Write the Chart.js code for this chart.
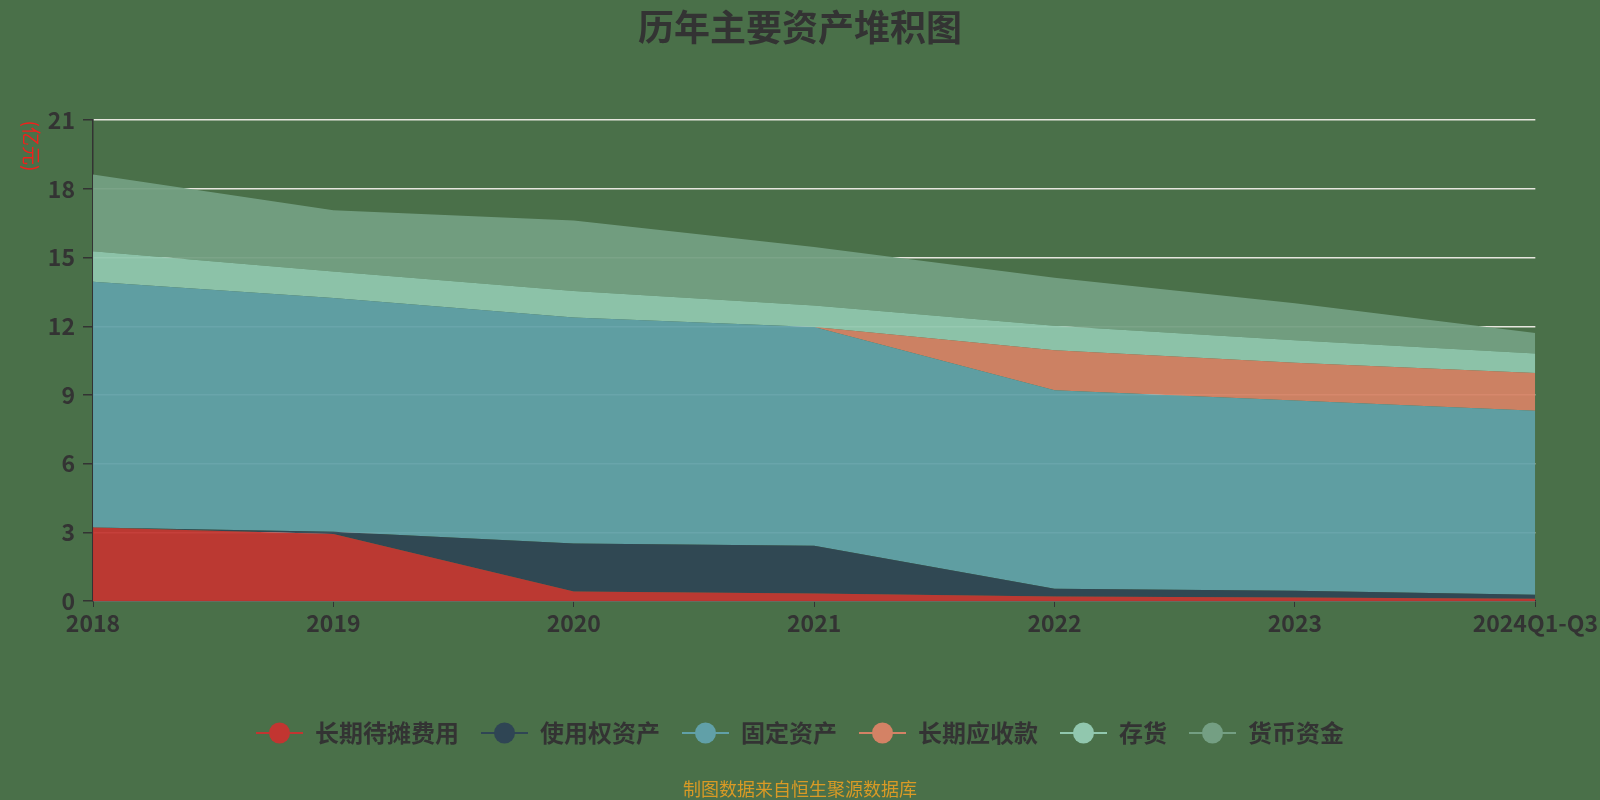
<!DOCTYPE html>
<html>
<head>
<meta charset="utf-8">
<script src="https://cdn.jsdelivr.net/npm/chart.js@4/dist/chart.umd.min.js"></script>
<style>
  html, body { margin: 0; padding: 0; background: #4a7049; }
  #wrap { width: 1600px; height: 800px; position: relative; }
</style>
</head>
<body>
<div id="wrap"><canvas id="chart"></canvas></div>
<script>
// data (亿元)
const years = ['2018', '2019', '2020', '2021', '2022', '2023', '2024Q1-Q3'];
const prepaidLongTerm = [3.21, 2.93, 0.41, 0.33, 0.20, 0.15, 0.10];   // 长期待摊费用
const rightOfUse = [0.00, 0.10, 2.10, 2.08, 0.34, 0.30, 0.17];        // 使用权资产
const fixedAssets = [10.73, 10.20, 9.87, 9.56, 8.66, 8.31, 8.04];      // 固定资产
const longTermRecv = [0.00, 0.00, 0.00, 0.00, 1.75, 1.65, 1.65];       // 长期应收款
const inventory = [1.34, 1.16, 1.16, 0.94, 1.07, 0.98, 0.85];          // 存货
const cash = [3.35, 2.68, 3.08, 2.55, 2.10, 1.61, 0.90];               // 货币资金
const yTicks = [0, 3, 6, 9, 12, 15, 18, 21];

const seriesNames = ['长期待摊费用', '使用权资产', '固定资产', '长期应收款', '存货', '货币资金'];
const seriesData = [prepaidLongTerm, rightOfUse, fixedAssets, longTermRecv, inventory, cash];
const colors = ['#c23531', '#2f4554', '#61a0a8', '#d48265', '#91c7ae', '#749f83'];

const FONT = '"Noto Sans CJK SC", "Noto Sans", sans-serif';
Chart.defaults.font.family = FONT;

function rgba(hex, a) {
  const n = parseInt(hex.slice(1), 16);
  return `rgba(${n >> 16},${(n >> 8) & 255},${n & 255},${a})`;
}

// legend icon: short line with a dot on it
function legendIcon(color) {
  const c = document.createElement('canvas');
  c.width = 47; c.height = 24;
  const g = c.getContext('2d');
  g.strokeStyle = color;
  g.lineWidth = 2;
  g.beginPath(); g.moveTo(0, 12); g.lineTo(47, 12); g.stroke();
  g.fillStyle = color;
  g.beginPath(); g.arc(23.5, 12, 10.5, 0, Math.PI * 2); g.fill();
  return c;
}
const icons = colors.map(legendIcon);

const datasets = seriesNames.map((name, i) => ({
  label: name,
  data: seriesData[i],
  backgroundColor: rgba(colors[i], 0.94),
  borderColor: 'rgba(0,0,0,0)',
  borderWidth: 0,
  fill: i === 0 ? 'origin' : '-1',
  tension: 0,
  pointRadius: 0,
  pointHoverRadius: 0
}));

const extras = {
  id: 'extras',
  afterDraw(chart) {
    const ctx = chart.ctx;
    ctx.save();
    // unit label
    ctx.translate(31, 146);
    ctx.rotate(Math.PI / 2);
    ctx.fillStyle = '#f0201c';
    ctx.font = '19px ' + FONT;
    ctx.textAlign = 'center';
    ctx.textBaseline = 'middle';
    ctx.fillText('(亿元)', 0, 0);
    ctx.restore();
    // source note
    ctx.save();
    ctx.fillStyle = '#d99a25';
    ctx.font = '18px ' + FONT;
    ctx.textAlign = 'center';
    ctx.textBaseline = 'middle';
    ctx.fillText('制图数据来自恒生聚源数据库', 800, 789);
    ctx.restore();
  }
};

new Chart(document.getElementById('chart'), {
  type: 'line',
  data: { labels: years, datasets: datasets },
  options: {
    responsive: true,
    maintainAspectRatio: false,
    animation: false,
    layout: { padding: { left: 0, right: 0, top: 0, bottom: 45 } },
    plugins: {
      title: {
        display: true,
        text: '历年主要资产堆积图',
        color: '#333',
        font: { size: 36, weight: 'bold' },
        padding: { top: 6, bottom: 71 }
      },
      legend: {
        position: 'bottom',
        labels: {
          color: '#333',
          font: { size: 24, weight: 'bold' },
          usePointStyle: true,
          pointStyleWidth: 47,
          boxHeight: 24,
          padding: 22,
          generateLabels(chart) {
            return chart.data.datasets.map((ds, i) => ({
              text: ds.label,
              fillStyle: colors[i],
              strokeStyle: colors[i],
              lineWidth: 0,
              pointStyle: icons[i],
              fontColor: '#333',
              hidden: false,
              datasetIndex: i
            }));
          }
        }
      },
      tooltip: { enabled: false }
    },
    scales: {
      x: {
        offset: false,
        afterFit(scale) { scale.height = 98; },
        grid: { display: true, drawOnChartArea: false, tickLength: 6, tickColor: '#333' },
        border: { display: true, color: '#333', width: 1.5 },
        ticks: { color: '#333', font: { size: 23, weight: 'bold' }, maxRotation: 0, autoSkip: false, padding: 2 }
      },
      y: {
        stacked: true,
        min: 0,
        max: 21,
        afterFit(scale) { scale.width = 93; },
        afterBuildTicks(scale) { scale.ticks = yTicks.map(v => ({ value: v })); },
        grid: { color: '#e6e6de', lineWidth: 1.5, tickLength: 10, tickColor: '#333' },
        border: { display: true, color: '#333', width: 1.5 },
        ticks: { color: '#333', font: { size: 23, weight: 'bold' }, padding: 8 }
      },
      // empty right-hand spacer so the plot ends where the reference does
      spacer: {
        type: 'linear',
        position: 'right',
        afterFit(scale) { scale.width = 64; },
        grid: { display: false },
        border: { display: false },
        ticks: { display: false }
      }
    }
  },
  plugins: [extras]
});
</script>
</body>
</html>
